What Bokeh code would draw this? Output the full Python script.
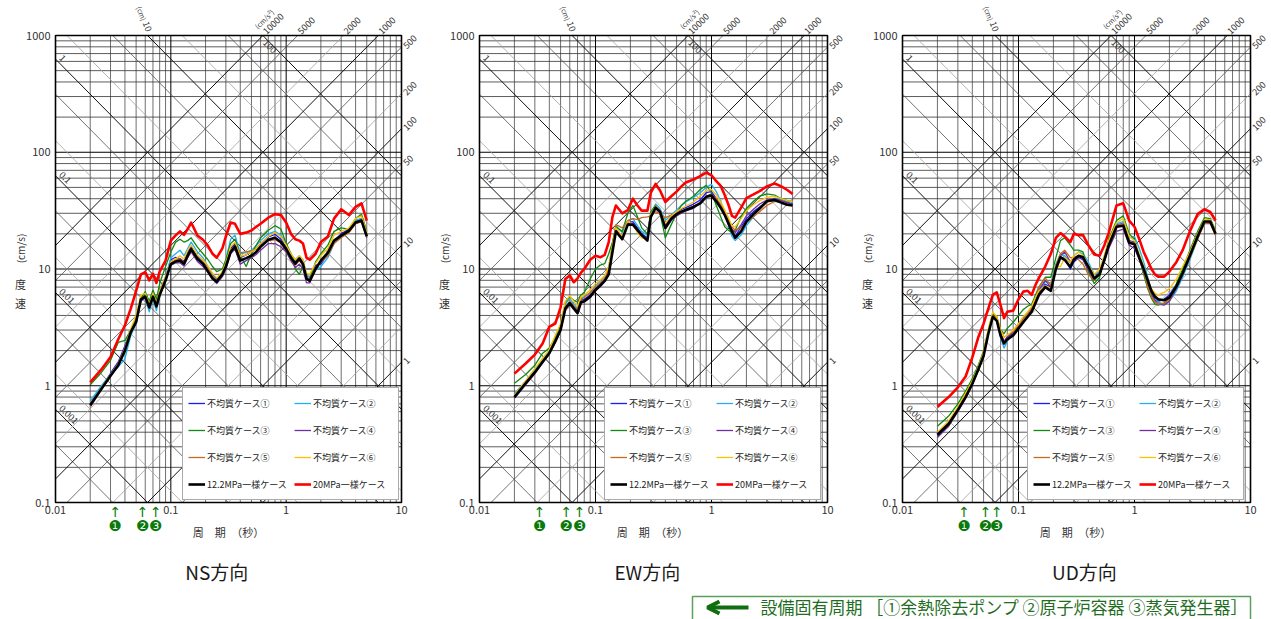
import math
from bokeh.plotting import figure
from bokeh.models import (ColumnDataSource, Legend, LegendItem, Range1d, Arrow, OpenHead)
from bokeh.core.properties import value
from bokeh.layouts import row, column
from bokeh.embed import file_html
from bokeh.resources import INLINE

JP = "Noto Sans CJK JP"

# ---------------- data ----------------
periods = [0.02, 0.025, 0.03, 0.035, 0.04, 0.045, 0.05, 0.055, 0.06, 0.065,
           0.07, 0.075, 0.08, 0.09, 0.1, 0.11, 0.12, 0.13, 0.14, 0.15,
           0.17, 0.19, 0.21, 0.23, 0.25, 0.28, 0.3, 0.33, 0.36, 0.4,
           0.45, 0.5, 0.55, 0.6, 0.7, 0.8, 0.9, 1.0, 1.1, 1.2,
           1.3, 1.4, 1.5, 1.6, 1.8, 2.0, 2.3, 2.6, 3.0, 3.5,
           4.0, 4.5, 5.0]

case_names = ["不均質ケース①", "不均質ケース②", "不均質ケース③", "不均質ケース④",
              "不均質ケース⑤", "不均質ケース⑥", "12.2MPa一様ケース", "20MPa一様ケース"]
case_colors = ["#1a1aff", "#22b0ee", "#108a10", "#7030a0", "#c86a1e", "#ffc000", "#000000", "#ff0000"]
case_widths = [1.3, 1.3, 1.3, 1.3, 1.3, 1.3, 2.6, 2.6]

# NS direction (cm/s)
ns_case1 = [0.70, 0.97, 1.28, 1.6, 2.2, 3.0, 3.7, 5.6, 6.0, 5.0, 6.1, 5.0, 6.5, 8.6, 12.0, 12.6, 12.3, 11.6, 13.8, 15.5,
            12.8, 11.5, 10.2, 9.0, 8.1, 9.2, 11.0, 15.0, 16.5, 12.5, 13.2, 14.0, 15.0, 16.5, 18.8, 19.8, 18.0, 15.5, 13.0, 11.6,
            12.8, 11.2, 8.8, 8.5, 10.8, 11.0, 13.5, 17.5, 20.0, 22.0, 26.0, 27.0, 19.5]
ns_case2 = [0.74, 1.0, 1.25, 1.45, 1.7, 2.7, 3.4, 5.4, 5.6, 4.3, 5.5, 4.4, 5.8, 8.5, 12.5, 13.5, 14.5, 13.0, 15.0, 17.0,
            14.0, 12.5, 10.5, 8.8, 8.0, 9.5, 12.0, 18.0, 19.5, 13.5, 13.8, 14.5, 15.8, 17.5, 20.0, 21.0, 19.5, 16.5, 13.5, 12.0,
            13.0, 12.0, 8.8, 8.6, 9.8, 10.5, 12.5, 16.5, 19.0, 21.5, 26.0, 27.0, 20.0]
ns_case3 = [1.02, 1.3, 1.65, 2.35, 2.45, 3.0, 3.8, 5.6, 6.4, 5.3, 6.6, 5.5, 7.5, 10.5, 14.0, 17.0, 18.0, 17.0, 17.5, 18.5,
            15.4, 13.5, 12.0, 10.5, 9.5, 10.0, 12.0, 16.5, 18.0, 13.0, 10.5, 13.5, 16.0, 18.5, 21.5, 23.5, 22.0, 16.5, 13.5, 10.0,
            9.0, 10.5, 8.0, 8.3, 11.5, 13.5, 16.0, 21.0, 22.5, 22.0, 27.0, 29.5, 21.0]
ns_case4 = [0.66, 0.92, 1.2, 1.5, 2.0, 2.85, 3.5, 5.3, 5.7, 4.6, 5.7, 4.7, 5.9, 7.8, 10.8, 11.3, 11.3, 10.6, 12.5, 14.0,
            11.6, 10.5, 9.4, 8.2, 7.5, 8.6, 10.0, 13.5, 14.8, 11.0, 11.8, 12.5, 13.3, 14.5, 16.5, 16.5, 15.5, 14.0, 11.8, 10.3,
            11.0, 10.0, 7.6, 7.6, 10.0, 11.5, 13.5, 17.0, 19.0, 21.0, 24.5, 25.5, 18.5]
ns_case5 = [0.66, 0.93, 1.22, 1.52, 2.05, 2.9, 3.6, 5.5, 5.9, 4.8, 5.9, 4.8, 6.1, 8.2, 11.3, 12.0, 12.2, 11.4, 13.4, 15.0,
            12.5, 11.4, 10.0, 8.7, 7.9, 9.1, 10.8, 14.5, 15.8, 13.8, 14.0, 14.2, 14.8, 15.8, 17.5, 17.8, 16.8, 14.5, 12.2, 10.8,
            11.8, 10.8, 8.5, 8.2, 10.2, 11.5, 13.0, 16.5, 18.5, 20.5, 24.5, 25.5, 19.0]
ns_case6 = [0.69, 0.96, 1.25, 1.55, 2.1, 3.1, 4.0, 6.0, 6.2, 5.0, 6.2, 5.1, 6.5, 8.6, 11.5, 12.2, 13.0, 12.2, 14.5, 16.0,
            13.2, 12.0, 10.6, 9.2, 8.4, 9.5, 11.3, 15.5, 17.0, 12.8, 13.2, 14.0, 15.0, 16.5, 19.0, 20.5, 19.0, 16.0, 13.5, 12.0,
            13.0, 12.0, 9.2, 9.0, 11.2, 13.0, 15.0, 19.5, 21.0, 22.5, 27.0, 28.5, 20.5]
ns_uniform122 = [0.68, 0.94, 1.22, 1.5, 2.0, 2.9, 3.5, 5.5, 5.8, 4.7, 5.8, 4.8, 6.0, 8.0, 11.0, 11.6, 11.8, 11.1, 13.0, 14.8,
                 12.2, 11.1, 9.5, 8.3, 7.8, 9.0, 10.5, 14.0, 15.6, 11.8, 12.4, 13.0, 14.0, 15.5, 17.8, 18.5, 17.0, 14.8, 12.5, 11.1,
                 12.3, 11.0, 8.3, 7.9, 10.0, 11.8, 13.8, 17.5, 19.3, 21.2, 25.0, 26.0, 19.0]
ns_uniform20 = [1.07, 1.38, 1.76, 2.5, 3.3, 4.6, 6.5, 9.0, 9.4, 8.0, 9.1, 7.6, 9.5, 11.8, 17.5, 19.4, 21.0, 19.6, 22.0, 25.0,
                19.4, 17.8, 15.8, 13.5, 12.5, 15.0, 19.0, 25.0, 24.4, 20.0, 20.5, 21.4, 23.0, 24.4, 27.5, 29.5, 29.0, 25.0, 20.0, 18.0,
                17.5, 16.5, 12.5, 12.0, 13.5, 17.0, 19.0, 27.0, 32.5, 29.0, 34.0, 36.5, 26.0]

# EW direction (cm/s)
ew_case1 = [0.82, 1.08, 1.35, 1.65, 1.95, 2.5, 3.1, 4.7, 5.2, 4.7, 4.4, 5.4, 5.5, 6.0, 6.8, 7.5, 8.2, 9.5, 15.0, 22.0,
            19.0, 25.0, 25.5, 22.5, 20.0, 18.5, 29.0, 34.5, 32.0, 24.0, 28.0, 30.5, 32.5, 33.5, 36.0, 39.0, 45.0, 46.0, 40.0, 34.0,
            29.0, 24.0, 20.0, 19.0, 23.0, 27.0, 31.0, 34.0, 37.5, 40.0, 38.5, 37.0, 36.0]
ew_case2 = [0.85, 1.1, 1.38, 1.7, 2.0, 2.6, 3.3, 5.0, 5.6, 5.0, 4.6, 5.6, 5.8, 6.3, 7.2, 7.9, 8.6, 10.5, 16.0, 23.5,
            20.5, 26.0, 27.0, 23.5, 21.0, 19.5, 30.0, 36.0, 33.0, 26.0, 29.0, 32.0, 35.0, 37.5, 41.0, 45.0, 50.0, 53.0, 46.0, 38.0,
            30.0, 24.0, 19.0, 17.5, 19.5, 23.5, 28.0, 33.0, 38.0, 40.5, 39.5, 38.0, 37.0]
ew_case3 = [1.05, 1.25, 1.5, 1.9, 2.1, 2.6, 3.3, 5.2, 5.8, 5.4, 5.2, 6.0, 6.3, 8.2, 10.0, 10.8, 11.1, 13.5, 17.0, 23.0,
            21.0, 30.0, 35.0, 28.0, 22.5, 20.0, 31.0, 35.0, 30.0, 18.5, 24.0, 30.0, 35.0, 38.0, 42.0, 48.0, 52.0, 45.0, 35.0, 28.0,
            23.0, 21.5, 20.5, 21.5, 28.0, 33.0, 38.0, 42.0, 44.0, 43.0, 40.0, 38.5, 37.5]
ew_case4 = [0.78, 1.02, 1.27, 1.58, 1.88, 2.35, 2.95, 4.5, 5.0, 4.5, 4.1, 5.1, 5.2, 5.7, 6.5, 7.1, 7.8, 9.0, 14.5, 21.5,
            18.5, 24.5, 24.5, 22.0, 19.5, 17.5, 27.5, 33.0, 30.0, 22.0, 26.0, 28.5, 30.0, 31.5, 33.0, 37.5, 42.0, 44.0, 39.5, 34.5,
            30.0, 26.0, 22.0, 20.5, 24.0, 28.5, 32.5, 36.0, 39.0, 40.0, 38.5, 37.0, 36.0]
ew_case5 = [0.8, 1.05, 1.3, 1.62, 1.92, 2.45, 3.05, 4.7, 5.3, 4.8, 4.5, 5.5, 5.7, 6.3, 7.0, 7.6, 8.3, 10.0, 16.0, 24.0,
            22.5, 26.0, 27.0, 26.5, 27.5, 28.0, 28.5, 31.0, 29.5, 27.5, 29.0, 30.5, 31.5, 32.5, 34.5, 37.0, 41.0, 43.0, 40.0, 36.0,
            31.5, 27.0, 23.0, 21.5, 22.5, 25.0, 28.0, 31.0, 35.0, 38.0, 37.5, 36.0, 35.0]
ew_case6 = [0.83, 1.1, 1.4, 1.72, 2.05, 2.7, 3.4, 5.3, 5.9, 5.3, 4.8, 5.8, 6.0, 6.6, 7.5, 8.1, 8.8, 10.5, 16.0, 22.5,
            19.0, 25.5, 24.0, 20.5, 18.5, 18.0, 29.5, 34.5, 31.5, 24.5, 28.5, 31.0, 33.0, 34.5, 37.5, 42.0, 47.0, 48.0, 43.0, 37.5,
            32.0, 27.5, 23.5, 23.0, 27.0, 31.5, 35.5, 38.5, 41.0, 42.0, 40.0, 38.5, 37.5]
ew_uniform122 = [0.80, 1.05, 1.3, 1.6, 1.9, 2.4, 3.0, 4.6, 5.1, 4.6, 4.2, 5.2, 5.3, 5.8, 6.6, 7.2, 7.9, 9.0, 14.0, 21.0,
                 18.0, 24.0, 24.0, 21.5, 19.5, 17.5, 28.0, 33.5, 31.0, 22.5, 27.0, 29.5, 31.0, 32.0, 34.0, 36.5, 41.5, 42.5, 38.0, 33.5,
                 29.0, 24.5, 21.0, 18.5, 21.0, 25.5, 29.5, 33.0, 38.0, 39.0, 37.0, 35.5, 35.0]
ew_uniform20 = [1.27, 1.55, 1.85, 2.3, 3.2, 3.4, 4.7, 8.2, 8.8, 7.7, 8.3, 9.3, 10.0, 12.0, 13.0, 12.6, 13.2, 17.0, 28.0, 35.0,
                30.0, 32.0, 40.0, 35.0, 31.6, 31.6, 45.0, 53.5, 47.0, 37.5, 42.0, 46.0, 51.0, 55.0, 58.5, 62.5, 67.0, 63.5, 56.5, 51.5,
                43.0, 35.5, 28.5, 27.5, 33.5, 40.5, 43.5, 46.5, 51.0, 54.0, 51.0, 47.5, 44.0]

# UD direction (cm/s)
ud_case1 = [0.37, 0.47, 0.62, 0.80, 1.05, 1.4, 1.85, 2.9, 4.0, 3.7, 2.8, 2.4, 2.6, 2.9, 3.4, 3.8, 4.2, 4.5, 5.4, 6.3,
            7.4, 7.0, 10.3, 12.8, 12.2, 10.0, 11.5, 12.5, 12.0, 9.8, 8.4, 9.5, 12.5, 16.8, 24.0, 24.5, 17.5, 17.0, 13.0, 10.0,
            7.5, 6.0, 5.4, 5.3, 5.5, 6.0, 7.4, 9.4, 13.0, 19.0, 25.0, 25.0, 20.0]
ud_case2 = [0.39, 0.49, 0.64, 0.82, 1.08, 1.42, 1.9, 3.0, 4.2, 3.7, 2.6, 2.1, 2.4, 2.8, 3.3, 3.7, 4.2, 4.6, 5.5, 6.5,
            7.8, 7.6, 11.0, 13.5, 13.0, 11.5, 13.0, 14.0, 13.5, 11.5, 9.0, 9.5, 13.0, 17.0, 24.5, 25.5, 18.5, 19.0, 15.0, 11.5,
            8.5, 6.5, 5.6, 5.2, 5.0, 5.3, 6.5, 8.5, 12.0, 18.0, 25.0, 25.5, 20.5]
ud_case3 = [0.45, 0.55, 0.70, 0.90, 1.15, 1.5, 2.0, 3.0, 4.1, 3.9, 3.0, 2.8, 3.1, 3.5, 4.0, 4.5, 4.8, 5.0, 6.0, 7.0,
            8.5, 8.5, 12.5, 17.5, 18.5, 16.0, 14.5, 14.5, 14.0, 9.5, 7.5, 8.5, 12.5, 18.0, 26.0, 28.5, 20.0, 18.0, 12.5, 9.0,
            6.8, 5.6, 5.0, 4.9, 5.1, 5.6, 7.5, 10.0, 14.5, 21.0, 27.5, 27.0, 21.5]
ud_case4 = [0.36, 0.45, 0.60, 0.78, 1.02, 1.35, 1.8, 2.8, 3.9, 3.6, 2.8, 2.4, 2.6, 2.8, 3.2, 3.6, 4.0, 4.6, 5.4, 6.6,
            8.0, 7.0, 10.5, 13.0, 14.0, 11.5, 12.5, 13.0, 12.0, 9.8, 8.0, 9.0, 11.5, 15.0, 21.0, 22.0, 16.0, 15.0, 12.0, 9.5,
            7.5, 6.2, 5.4, 5.0, 4.9, 5.3, 6.8, 9.0, 13.0, 18.5, 24.5, 24.5, 19.5]
ud_case5 = [0.38, 0.48, 0.63, 0.82, 1.06, 1.4, 1.88, 2.9, 4.0, 3.8, 3.0, 2.6, 2.7, 2.9, 3.3, 3.7, 4.1, 4.7, 5.6, 7.0,
            8.4, 7.2, 10.8, 13.5, 14.5, 12.5, 12.5, 12.0, 11.0, 9.0, 8.0, 9.5, 12.5, 16.5, 23.5, 24.5, 17.5, 16.5, 12.5, 9.5,
            7.0, 5.8, 5.2, 5.0, 5.1, 5.5, 7.0, 9.0, 12.5, 18.0, 24.5, 25.0, 19.5]
ud_case6 = [0.40, 0.50, 0.66, 0.86, 1.1, 1.45, 1.95, 3.1, 4.3, 3.9, 3.0, 2.6, 2.7, 3.0, 3.4, 3.9, 4.3, 4.8, 5.7, 6.5,
            7.2, 6.8, 10.5, 10.5, 12.5, 11.5, 13.0, 14.0, 13.0, 10.8, 9.0, 10.0, 13.0, 17.5, 25.0, 27.0, 19.0, 17.5, 13.5, 10.5,
            8.0, 6.8, 6.2, 6.0, 6.3, 6.8, 8.2, 10.5, 14.0, 20.0, 26.5, 26.5, 21.0]
ud_uniform122 = [0.38, 0.47, 0.62, 0.80, 1.04, 1.38, 1.8, 2.8, 3.9, 3.6, 2.7, 2.3, 2.5, 2.7, 3.1, 3.5, 3.9, 4.3, 5.1, 6.0,
                 7.0, 6.5, 10.0, 12.6, 12.0, 10.4, 12.0, 13.0, 12.6, 10.5, 8.3, 9.0, 12.0, 16.0, 23.0, 23.5, 16.8, 16.3, 12.5, 10.0,
                 8.0, 6.5, 5.8, 5.5, 5.4, 5.7, 7.1, 9.2, 13.0, 19.0, 25.5, 25.5, 20.0]
ud_uniform20 = [0.66, 0.80, 0.97, 1.2, 1.75, 2.6, 3.4, 4.6, 6.0, 6.3, 4.9, 3.8, 4.3, 4.4, 5.5, 6.4, 6.5, 6.0, 7.3, 8.4,
                10.5, 13.5, 18.5, 20.3, 19.0, 17.0, 20.0, 19.5, 19.5, 16.0, 13.3, 13.0, 16.0, 20.5, 35.0, 36.5, 26.0, 23.0, 18.0, 14.0,
                11.8, 10.0, 9.0, 8.6, 8.6, 9.5, 11.5, 14.5, 21.0, 29.5, 32.5, 30.8, 26.0]

panel_titles = ["NS方向", "EW方向", "UD方向"]
title_periods = [0.25, 0.28, 0.37]
eigen_ns = [0.033, 0.057, 0.074]
eigen_ew = [0.033, 0.056, 0.073]
eigen_ud = [0.034, 0.052, 0.065]
eigen_marks = ["❶", "❷", "❸"]

x_ticks = [0.01, 0.1, 1, 10]
x_tick_labels = ["0.01", "0.1", "1", "10"]
x_minor = [0.02, 0.03, 0.04, 0.05, 0.06, 0.07, 0.08, 0.09,
           0.2, 0.3, 0.4, 0.5, 0.6, 0.7, 0.8, 0.9,
           2, 3, 4, 5, 6, 7, 8, 9]
y_ticks = [0.1, 1, 10, 100, 1000]
y_tick_labels = ["0.1", "1", "10", "100", "1000"]
y_minor = [0.2, 0.3, 0.4, 0.5, 0.6, 0.7, 0.8, 0.9,
           2, 3, 4, 5, 6, 7, 8, 9,
           20, 30, 40, 50, 60, 70, 80, 90,
           200, 300, 400, 500, 600, 700, 800, 900]

# tripartite net: displacement (cm) and acceleration (cm/s^2) lines
disp_lines = [0.0005, 0.001, 0.002, 0.005, 0.01, 0.02, 0.05, 0.1, 0.2, 0.5,
              1, 2, 5, 10, 20, 50, 100]
acc_lines = [1, 2, 5, 10, 20, 50, 100, 200, 500, 1000, 2000, 5000, 10000]
disp_left_labels = ["1", "0.1", "0.01", "0.001"]
disp_left_values = [1, 0.1, 0.01, 0.001]
acc_top_values = [10000, 5000, 2000, 1000]
acc_right_values = [500, 200, 100, 50, 10, 1]

TWO_PI = 2 * math.pi
T_MIN, T_MAX, V_MIN, V_MAX = 0.01, 10.0, 0.1, 1000.0
PANEL_H = 587


def net_style(v):
    m = round(v / 10 ** math.floor(math.log10(v) + 1e-9))
    if m == 1:
        return "#111111", 1.0
    if m == 5:
        return "#505050", 0.8
    return "#a0a0a0", 0.8


def make_panel(series, eigen, title, title_T, cl, cw, W, legend_x):
    kx = cw / 3.0
    ky = 467 / 4.0

    def T_at(px):
        return 10 ** (-2 + (px - cl) / kx)

    def V_at(py):
        return 10 ** (3 - (py - 35) / ky)

    p = figure(width=W, height=PANEL_H, x_axis_type="log", y_axis_type="log",
               x_range=Range1d(T_at(0), T_at(W)), y_range=Range1d(V_at(PANEL_H), V_at(0)),
               min_border=0, x_axis_location=None, y_axis_location=None,
               output_backend="svg", toolbar_location=None,
               background_fill_color="white", border_fill_color="white")
    p.grid.visible = False
    p.outline_line_color = None

    # log grid
    p.segment(x0=x_minor, y0=[V_MIN] * len(x_minor), x1=x_minor, y1=[V_MAX] * len(x_minor),
              line_color="#4a4a4a", line_width=0.8)
    p.segment(x0=[T_MIN] * len(y_minor), y0=y_minor, x1=[T_MAX] * len(y_minor), y1=y_minor,
              line_color="#333333", line_width=0.8)
    p.segment(x0=x_ticks, y0=[V_MIN] * len(x_ticks), x1=x_ticks, y1=[V_MAX] * len(x_ticks),
              line_color="#000000", line_width=1.0)
    p.segment(x0=[T_MIN] * len(y_ticks), y0=y_ticks, x1=[T_MAX] * len(y_ticks), y1=y_ticks,
              line_color="#000000", line_width=1.0)

    # diagonal net clipped to the chart box
    xs, ys, cs, ws = [], [], [], []
    for d in disp_lines:
        t0 = max(T_MIN, TWO_PI * d / V_MAX)
        t1 = min(T_MAX, TWO_PI * d / V_MIN)
        if t0 < t1:
            c, w = net_style(d)
            xs.append([t0, t1]); ys.append([TWO_PI * d / t0, TWO_PI * d / t1]); cs.append(c); ws.append(w)
    for a in acc_lines:
        t0 = max(T_MIN, TWO_PI * V_MIN / a)
        t1 = min(T_MAX, TWO_PI * V_MAX / a)
        if t0 < t1:
            c, w = net_style(a)
            xs.append([t0, t1]); ys.append([a * t0 / TWO_PI, a * t1 / TWO_PI]); cs.append(c); ws.append(w)
    p.multi_line(xs="xs", ys="ys", line_color="c", line_width="w",
                 source=ColumnDataSource(dict(xs=xs, ys=ys, c=cs, w=ws)))

    # frame
    p.quad(left=[T_MIN], right=[T_MAX], bottom=[V_MIN], top=[V_MAX],
           fill_color=None, line_color="#000000", line_width=1.6)

    small = dict(text_font=value(JP), text_font_size=value("9px"), text_color="#333333")
    # displacement labels on the left
    p.text(x=[T_at(cl + 3)] * 4, y=[TWO_PI * d / T_at(cl + 3) * 1.07 for d in disp_left_values],
           text=disp_left_labels, angle=-math.pi / 4, text_align="left", text_baseline="bottom", **small)
    # acceleration labels along the top
    p.text(x=[TWO_PI * V_MAX / a * 1.03 for a in acc_top_values], y=[V_at(32)] * 4,
           text=[str(a) for a in acc_top_values], angle=math.pi / 4,
           text_align="left", text_baseline="middle", **small)
    tc = TWO_PI * V_MAX / acc_top_values[0]
    p.text(x=[tc * 0.87], y=[V_at(27)], text=["(cm/s²)"], angle=math.pi / 4, text_align="left",
           text_baseline="middle", text_font=value(JP), text_font_size=value("7px"), text_color="#333333")
    p.text(x=[tc * 1.09], y=[V_at(38)], text=["100"], angle=-math.pi / 4, text_align="left",
           text_baseline="top", **small)
    p.text(x=[T_at(cl + 92)], y=[V_at(26)], text=["10"], angle=-1.2, text_align="center",
           text_baseline="middle", **small)
    p.text(x=[T_at(cl + 86)], y=[V_at(13)], text=["(cm)"], angle=-1.2, text_align="center",
           text_baseline="middle", text_font=value(JP), text_font_size=value("7px"), text_color="#333333")
    # acceleration labels on the right
    p.text(x=[T_at(cl + cw + 3)] * len(acc_right_values),
           y=[a * T_MAX / TWO_PI for a in acc_right_values],
           text=[str(a) for a in acc_right_values], angle=math.pi / 4,
           text_align="left", text_baseline="middle", **small)

    # tick labels
    tick = dict(text_font=value(JP), text_font_size=value("11px"), text_color="#333333")
    p.text(x=x_ticks, y=[V_at(509)] * len(x_ticks), text=x_tick_labels,
           text_align="center", text_baseline="middle", **tick)
    p.text(x=[T_at(cl - 5)] * len(y_ticks), y=y_ticks, text=y_tick_labels,
           text_align="right", text_baseline="middle", **tick)

    # axis titles
    p.text(x=[T_at(cl + 173)], y=[V_at(531)], text=["周　期　（秒）"],
           text_align="center", text_baseline="middle", **tick)
    p.text(x=[T_at(cl - 35)] * 2, y=[V_at(302), V_at(283)], text=["速", "度"],
           text_align="center", text_baseline="middle", **tick)
    p.text(x=[T_at(cl - 35)], y=[V_at(248)], text=["(cm/s)"], angle=math.pi / 2,
           text_align="center", text_baseline="middle", text_font=value(JP),
           text_font_size=value("10px"), text_color="#333333")

    # equipment natural periods
    p.text(x=eigen, y=[V_at(511)] * len(eigen), text=["↑"] * len(eigen),
           text_align="center", text_baseline="middle", text_font=value("DejaVu Sans"),
           text_font_size=value("14px"), text_color="#0a7a0a")
    p.text(x=eigen, y=[V_at(525)] * len(eigen), text=eigen_marks,
           text_align="center", text_baseline="middle", text_font=value("DejaVu Sans"),
           text_font_size=value("15px"), text_color="#0a7a0a")

    # panel title
    p.text(x=[title_T], y=[V_at(571)], text=[title], text_align="center", text_baseline="middle",
           text_font=value(JP), text_font_size=value("19px"), text_color="#1a1a1a")

    # response spectra
    renderers = []
    for vals, col, w in zip(series, case_colors, case_widths):
        r = p.line(periods, vals, line_color=col, line_width=w, line_join="round")
        renderers.append(r)

    items = [LegendItem(label=n, renderers=[r]) for n, r in zip(case_names, renderers)]
    leg = Legend(items=items, ncols=2, orientation="horizontal", location=(legend_x, 87),
                 label_text_font=JP, label_text_font_size="9px", label_text_color="#222222",
                 glyph_width=17, glyph_height=20, label_height=20, label_width=80,
                 label_standoff=2, spacing=7, padding=5, margin=0,
                 border_line_color="#555555", border_line_width=1,
                 background_fill_color="white", background_fill_alpha=1.0)
    p.add_layout(leg)
    return p


p1 = make_panel([ns_case1, ns_case2, ns_case3, ns_case4, ns_case5, ns_case6, ns_uniform122, ns_uniform20],
                eigen_ns, panel_titles[0], title_periods[0], cl=55, cw=346, W=431, legend_x=182)
p2 = make_panel([ew_case1, ew_case2, ew_case3, ew_case4, ew_case5, ew_case6, ew_uniform122, ew_uniform20],
                eigen_ew, panel_titles[1], title_periods[1], cl=48, cw=348, W=424, legend_x=173)
p3 = make_panel([ud_case1, ud_case2, ud_case3, ud_case4, ud_case5, ud_case6, ud_uniform122, ud_uniform20],
                eigen_ud, panel_titles[2], title_periods[2], cl=47, cw=348, W=416, legend_x=172)

# bottom note strip
pb = figure(width=1271, height=32, x_range=Range1d(0, 1271), y_range=Range1d(619, 587),
            output_backend="svg", toolbar_location=None, min_border=0,
            x_axis_location=None, y_axis_location=None)
pb.grid.visible = False
pb.outline_line_color = None
pb.quad(left=[692], right=[1250], top=[596], bottom=[640], fill_color=None,
        line_color="#5e9e5e", line_width=1.5)
pb.add_layout(Arrow(end=OpenHead(size=12, line_width=4, line_color="#0f6e0f"),
                    x_start=748, y_start=607, x_end=707, y_end=607,
                    line_color="#0f6e0f", line_width=4))
pb.text(x=[760], y=[606], text=["設備固有周期 ［①余熱除去ポンプ ②原子炉容器 ③蒸気発生器］"],
        text_align="left", text_baseline="middle", text_font=value(JP),
        text_font_size=value("17px"), text_color="#1f6e1f")

layout = column(row(p1, p2, p3), pb)
open("out.html", "w").write(file_html(layout, INLINE))
